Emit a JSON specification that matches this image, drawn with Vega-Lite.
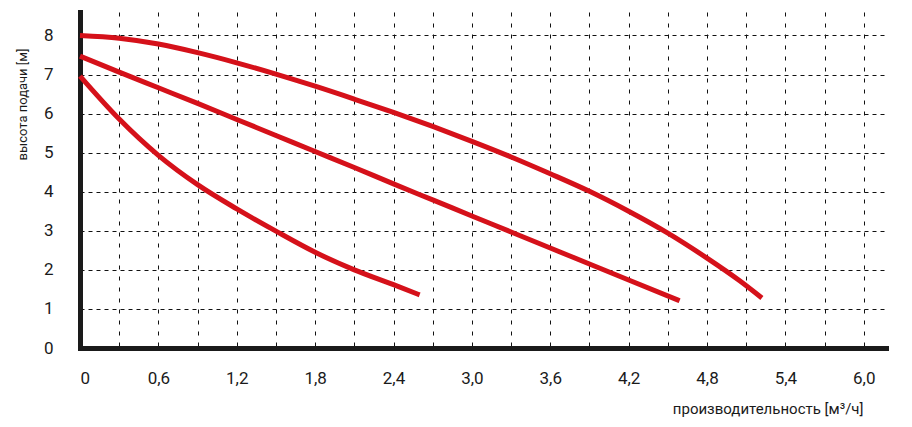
{
  "$schema": "https://vega.github.io/schema/vega-lite/v6.json",
  "autosize": {"type": "none"},
  "padding": {"left": 80, "top": 12, "right": 26, "bottom": 79},
  "width": 806,
  "height": 336,
  "background": "white",
  "config": {
    "view": {"stroke": null},
    "font": "Roboto",
    "axis": {"labelFont": "Roboto", "titleFont": "Roboto", "labelColor": "#1a1a1a", "titleColor": "#1a1a1a"}
  },
  "data": {
    "values": [
      {"curve": "A", "q": 0, "h": 8.0},
      {"curve": "A", "q": 0.3, "h": 7.93},
      {"curve": "A", "q": 0.6, "h": 7.78},
      {"curve": "A", "q": 0.9, "h": 7.56},
      {"curve": "A", "q": 1.2, "h": 7.3},
      {"curve": "A", "q": 1.5, "h": 7.01},
      {"curve": "A", "q": 1.8, "h": 6.7},
      {"curve": "A", "q": 2.1, "h": 6.37},
      {"curve": "A", "q": 2.4, "h": 6.03},
      {"curve": "A", "q": 2.7, "h": 5.67},
      {"curve": "A", "q": 3.0, "h": 5.29},
      {"curve": "A", "q": 3.3, "h": 4.89},
      {"curve": "A", "q": 3.6, "h": 4.46},
      {"curve": "A", "q": 3.9, "h": 4.01},
      {"curve": "A", "q": 4.2, "h": 3.5},
      {"curve": "A", "q": 4.5, "h": 2.94},
      {"curve": "A", "q": 4.8, "h": 2.3},
      {"curve": "A", "q": 5.05, "h": 1.72},
      {"curve": "A", "q": 5.22, "h": 1.28},
      {"curve": "B", "q": 0, "h": 7.47},
      {"curve": "B", "q": 0.3, "h": 7.06},
      {"curve": "B", "q": 0.6, "h": 6.66},
      {"curve": "B", "q": 0.9, "h": 6.26},
      {"curve": "B", "q": 1.2, "h": 5.85},
      {"curve": "B", "q": 1.5, "h": 5.44},
      {"curve": "B", "q": 1.8, "h": 5.03},
      {"curve": "B", "q": 2.1, "h": 4.62},
      {"curve": "B", "q": 2.4, "h": 4.2},
      {"curve": "B", "q": 2.7, "h": 3.79},
      {"curve": "B", "q": 3.0, "h": 3.38},
      {"curve": "B", "q": 3.3, "h": 2.97},
      {"curve": "B", "q": 3.6, "h": 2.56},
      {"curve": "B", "q": 3.9, "h": 2.15},
      {"curve": "B", "q": 4.2, "h": 1.74},
      {"curve": "B", "q": 4.59, "h": 1.21},
      {"curve": "C", "q": 0, "h": 6.96},
      {"curve": "C", "q": 0.3, "h": 5.86},
      {"curve": "C", "q": 0.6, "h": 4.93},
      {"curve": "C", "q": 0.9, "h": 4.18},
      {"curve": "C", "q": 1.2, "h": 3.56},
      {"curve": "C", "q": 1.5, "h": 2.99},
      {"curve": "C", "q": 1.8, "h": 2.45},
      {"curve": "C", "q": 2.1, "h": 2.0},
      {"curve": "C", "q": 2.4, "h": 1.62},
      {"curve": "C", "q": 2.6, "h": 1.36}
    ]
  },
  "mark": {"type": "line", "color": "#d5111a", "strokeWidth": 5, "interpolate": "monotone", "strokeCap": "butt", "clip": false},
  "encoding": {
    "x": {
      "field": "q",
      "type": "quantitative",
      "scale": {"domain": [0, 6.17], "nice": false, "zero": true},
      "axis": {
        "values": [0, 0.3, 0.6, 0.9, 1.2, 1.5, 1.8, 2.1, 2.4, 2.7, 3.0, 3.3, 3.6, 3.9, 4.2, 4.5, 4.8, 5.1, 5.4, 5.7, 6.0],
        "labelExpr": "round(datum.value * 10) % 6 != 0 ? '' : (datum.value == 0 ? '0' : replace(format(datum.value, '.1f'), '.', ','))",
        "labelFontSize": 17,
        "labelBaseline": "top",
        "labelPadding": 22,
        "labelOverlap": false,
        "ticks": false,
        "domainColor": "#1a1a1a",
        "domainWidth": 5,
        "domainCap": "square",
        "grid": true,
        "gridColor": "#111111",
        "gridWidth": 1,
        "gridDash": [4, 7],
        "title": "производительность [м³/ч]",
        "titleFontSize": 15,
        "titleFontWeight": "normal",
        "titleAlign": "right",
        "titleAnchor": "end",
        "titleBaseline": "middle",
        "titleX": 783,
        "titleY": 60
      }
    },
    "y": {
      "field": "h",
      "type": "quantitative",
      "scale": {"domain": [0, 8.6], "nice": false},
      "axis": {
        "values": [0, 1, 2, 3, 4, 5, 6, 7, 8],
        "labelFontSize": 17,
        "labelPadding": 27,
        "ticks": false,
        "domainColor": "#1a1a1a",
        "domainWidth": 5,
        "domainCap": "square",
        "grid": true,
        "gridColor": "#111111",
        "gridWidth": 1,
        "gridDash": [4, 4],
        "title": "высота подачи [м]",
        "titleFontSize": 13,
        "titleFontWeight": "normal",
        "titleAngle": -90,
        "titleAlign": "center",
        "titleBaseline": "middle",
        "titleX": -58,
        "titleY": 92
      }
    },
    "detail": {"field": "curve"}
  }
}
